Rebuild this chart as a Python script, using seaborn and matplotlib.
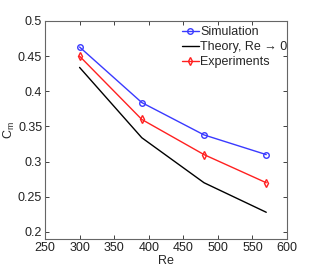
import numpy as np
import pandas as pd
import matplotlib
matplotlib.use('Agg')
import matplotlib.pyplot as plt
import seaborn as sns

# data
re_vals = [300, 390, 480, 570]
simulation = [0.463, 0.384, 0.338, 0.310]
theory = [0.434, 0.334, 0.270, 0.228]
experiments = [0.450, 0.360, 0.310, 0.270]

sns.set_style('white')
plt.rcParams['font.family'] = ['Liberation Sans', 'DejaVu Sans']
plt.rcParams['font.size'] = 9
plt.rcParams['mathtext.fontset'] = 'custom'
plt.rcParams['mathtext.rm'] = 'Liberation Sans'
plt.rcParams['mathtext.it'] = 'Liberation Sans'

df = pd.DataFrame({'Re': re_vals, 'sim': simulation, 'theory': theory, 'exp': experiments})

fig = plt.figure(figsize=(3.17, 2.70), dpi=100)
ax = fig.add_axes([45 / 317, 1 - 239 / 270, 242 / 317, 218 / 270])

sns.lineplot(data=df, x='Re', y='sim', ax=ax, color='#3a3aff', lw=1.0, marker='o',
             markersize=4, markerfacecolor='none', markeredgecolor='#3a3aff',
             markeredgewidth=1.0, label='Simulation')
sns.lineplot(data=df, x='Re', y='theory', ax=ax, color='black', lw=1.0,
             label='Theory, Re \u2192 0')
sns.lineplot(data=df, x='Re', y='exp', ax=ax, color='#ff2020', lw=1.0, marker='d',
             markersize=4, markerfacecolor='none', markeredgecolor='#ff2020',
             markeredgewidth=1.0, label='Experiments')

ax.set_xlim(250, 600)
ax.set_ylim(0.19, 0.5)
ax.set_xticks([250, 300, 350, 400, 450, 500, 550, 600])
ax.set_yticks([0.2, 0.25, 0.3, 0.35, 0.4, 0.45, 0.5])
ax.set_yticklabels(['0.2', '0.25', '0.3', '0.35', '0.4', '0.45', '0.5'])
ax.tick_params(direction='in', length=3, width=0.6, top=True, right=True,
               bottom=True, left=True, labelsize=9, pad=2, colors='#222222')
for s in ax.spines.values():
    s.set_color('#666666')
    s.set_linewidth(0.8)

ax.set_xlabel('Re', fontsize=9, labelpad=1)
ax.set_ylabel(r'C$_\mathrm{m}$', fontsize=9, labelpad=1)

leg = ax.legend(loc='upper right', frameon=False, fontsize=9, handlelength=1.4,
                handletextpad=0.1, labelspacing=0.25, borderaxespad=0.0,
                borderpad=0.15, bbox_to_anchor=(1.01, 0.985))

fig.savefig('out.png', dpi=100)
